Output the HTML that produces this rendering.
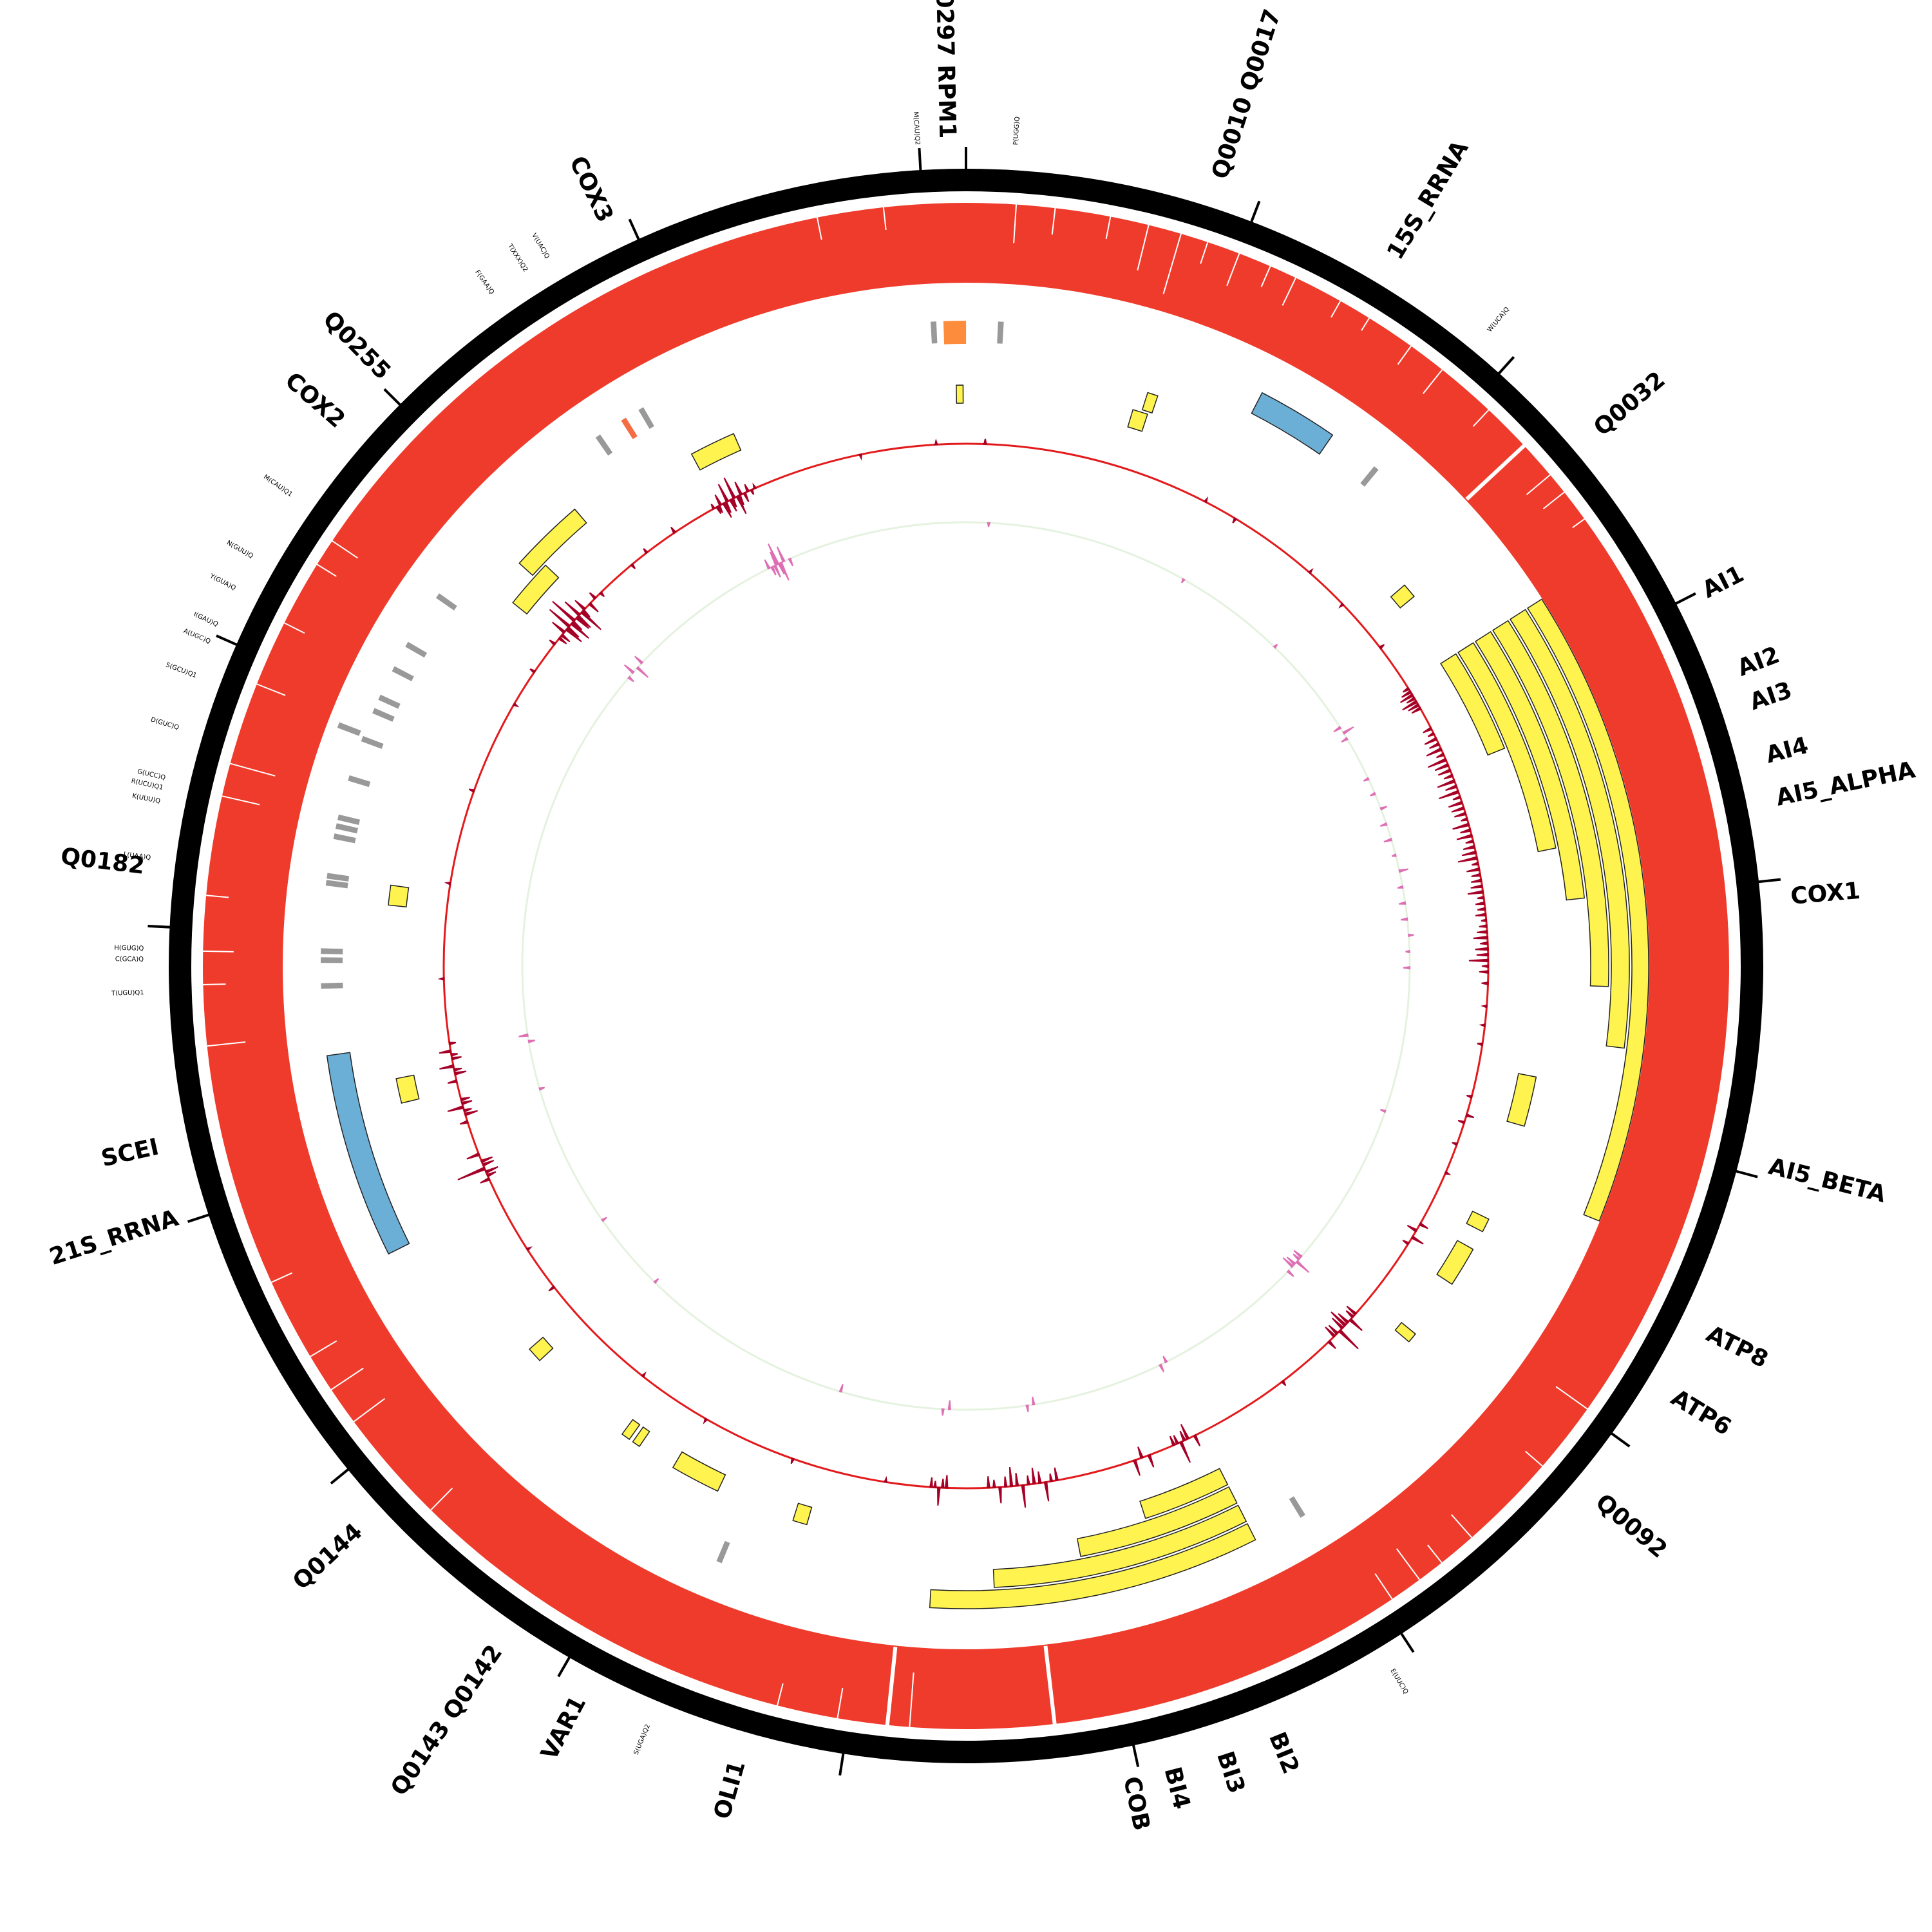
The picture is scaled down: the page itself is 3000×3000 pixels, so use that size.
<!DOCTYPE html>
<html><head><meta charset="utf-8"><style>
html,body{margin:0;padding:0;background:#fff}
svg{display:block}
text{font-family:"DejaVu Sans","Liberation Sans",sans-serif;fill:#000}
</style></head><body>
<svg id="chart" width="3000" height="3000" viewBox="0 0 3000 3000" xmlns="http://www.w3.org/2000/svg">
<rect width="3000" height="3000" fill="#fff"/>
<g id="ring-layer"></g><g id="feature-layer"></g><g id="track-layer"></g><g id="label-layer"></g>
</svg>
<script>
const GENOME_KB = 85.779;
const tickKb = [0,5,10,15,20,25,30,35,40,45,50,55,60,65,70,75,80,85];
// yellow genes: start, end, lane
const geneStart = [85.55,3.98,4.19,11.68,13.70,13.70,13.70,13.70,13.70,13.70,24.07,27.60,28.40,30.81,36.51,36.51,36.51,36.51,46.68,48.92,51.04,51.33,54.14,61.08,65.77,74.35,73.56,79.06];
const geneEnd   = [85.71,4.34,4.43,12.03,26.67,23.14,21.88,19.95,18.75,16.20,25.26,27.93,29.36,31.05,43.66,42.27,40.27,38.60,47.02,50.11,51.23,51.54,54.50,61.67,66.24,76.11,74.73,80.16];
const geneLane  = [6,6,5,6,1,2,3,4,5,6,6,6,6,6,3,4,5,6,6,6,6,6,6,6,6,5,6,6];
const rrnaStart = [6.51,58.02];
const rrnaEnd = [8.25,62.43];
const orfStart = [85.30];
const orfEnd = [85.78];
const trnaKb = [85.09,0.74,9.41,35.39,48.25,72.68,71.46,70.87,70.20,69.89,69.34,69.25,68.37,67.51,67.32,67.10,66.25,66.10,64.65,64.46,63.91,77.49,78.57,78.14];
const trnaLane = [0,0,0,0,0,0,0,0,0,0,1,0,0,0,0,0,0,0,0,0,0,0,0,0];
const trnaKind = ['g','g','g','g','g','g','g','g','g','g','g','g','g','g','g','g','g','g','g','g','g','g','g','o'];
// coverage gaps in red ring: position kb, depth fraction
const gapKb = [0.9,1.6,2.6,3.3,3.9,4.4,5.0,5.6,6.1,7.0,7.6,8.5,9.2,10.3,11.2,11.9,12.3,12.9,41.3,43.9,44.3,45.2,46.3,53.5,55.6,56.3,57.0,58.5,62.9,64.0,64.6,65.6,67.4,68.0,69.5,70.7,71.9,72.4,83.1,84.3,29.9,31.2,33.0,33.7,34.2,34.8];
const gapDepth = [0.5,0.35,0.3,0.6,0.8,0.3,0.45,0.3,0.4,0.25,0.2,0.3,0.4,0.3,1,0.4,0.35,0.2,1,0.7,1,0.4,0.3,0.4,0.5,0.5,0.4,0.3,0.5,0.3,0.4,0.3,0.5,0.6,0.4,0.3,0.3,0.4,0.3,0.3,0.5,0.3,0.4,0.3,0.5,0.4];
// red (outer) signal track
const redKb = [78.9,79.0,79.1,79.2,79.3,79.4,79.5,79.6,79.7,79.8,79.9,80.0,80.1,73.4,73.6,73.8,73.9,74.0,74.1,74.2,74.3,74.4,74.5,74.6,74.8,75.0,75.2,77.7,76.3,76.8,61.3,61.5,61.7,61.9,62.1,62.3,60.2,60.4,60.6,60.8,58.6,58.8,58.9,59.1,59.3,55.3,52.0,66.5,69.0,71.5,72.5,13.8,14.0,14.2,14.4,15.0,15.3,15.6,15.9,16.2,16.5,16.8,17.1,17.4,17.7,18.0,18.3,18.6,18.9,19.2,19.5,19.8,20.1,20.4,20.7,21.0,21.3,21.6,21.9,25.4,25.6,28.5,28.7,28.9,31.4,31.6,31.8,32.0,32.2,32.4,36.7,36.9,37.1,37.3,38.0,38.2,38.4,40.5,40.8,41.1,41.4,41.7,42.0,42.3,43.4,43.6,43.8,0.5,6.5,7.4,9.8,11.0,12.5,23.5,27.0,34.0,45.0,47.5,50.0,56.5,64.0,83.0,85.0,
 15.15,15.45,15.75,16.05,16.35,16.65,16.95,17.25,17.55,17.85,18.15,18.45,18.75,19.05,19.35,19.65,19.95,20.25,20.55,20.85,21.15,21.45,14.1,14.3,13.9,31.5,31.7,31.9,32.1,37.0,37.2,40.65,40.95,41.25,41.55,41.85,42.15,43.5,43.7,79.05,79.25,79.45,79.65,73.7,73.95,74.15,74.35,74.55,60.5,60.7,58.7,59.0,61.6,62.0,29.1,24.9,26.2,22.5,23.0];
const redVal = [8,-12,18,-25,30,-20,35,-30,22,-15,12,-8,6,10,-14,24,-30,40,-35,45,-25,30,-40,20,-18,12,-8,10,-8,8,14,-18,22,-15,18,-10,12,-20,25,-14,15,-20,45,-18,20,10,-6,6,8,-6,8,-10,-22,-25,-15,-14,-20,-25,-30,-20,-28,-32,-22,-18,-26,-24,-18,-30,-20,-16,-24,-14,-16,-12,-22,-20,-30,-14,-10,12,-10,14,-16,20,-18,25,-30,40,-20,15,18,-25,35,-15,20,-18,25,-20,30,-25,35,-30,25,-18,-20,28,-15,8,6,-8,6,-6,8,-8,6,8,-6,8,6,-6,6,-6,6,
 -10,-16,-12,-22,-14,-18,-12,-20,-10,-16,-12,-22,-10,-14,-18,-10,-12,-8,-16,-12,-18,-10,-14,-18,-16,-14,-20,-22,-18,-16,-14,-12,-18,-14,-20,-16,-12,-14,-10,-12,-18,-14,-16,-16,-22,-18,-26,-14,-12,-16,-14,-18,-12,-10,-10,-8,-8,-6,-6];
// pink (inner) signal track
const pinkKb = [79.5,79.7,79.8,79.9,80.0,80.2,74.0,74.2,74.4,74.6,62.0,62.2,13.7,13.9,14.1,15.5,16.5,17.5,18.5,19.5,20.5,21.5,31.2,31.4,31.6,31.8,36.5,36.7,40.8,41.0,43.4,43.6,46.8,53.5,56.0,60.5,0.7,7.0,10.5,26.0,79.6,79.75,79.85,31.3,31.5,16.0,17.0,18.0,19.0,20.0,21.0];
const pinkVal = [15,-20,35,-30,25,-12,-10,18,-22,15,-10,14,-12,18,-10,-8,10,-12,14,-10,8,-10,-15,25,-20,12,-10,12,-12,10,-14,10,-12,-8,-8,-8,-6,-6,6,-8,-14,22,-18,-12,-16,-8,-10,-6,-8,-10,-6];
// labels
const bigLabelText = ["Q0297 RPM1","Q0010 Q0017","15S_RRNA","Q0032","AI1","AI2","AI3","AI4","AI5_ALPHA","COX1","AI5_BETA","ATP8","ATP6","Q0092","BI2","BI3","BI4","COB","OLI1","VAR1","Q0143 Q0142","Q0144","21S_RRNA","SCEI","Q0182","COX2","Q0255","COX3"];
const bigLabelKb = [85.47,4.25,7.41,11.85,15.04,16.44,17.03,17.94,18.66,20.30,24.78,27.71,28.90,31.00,37.65,38.56,39.46,40.15,46.70,49.52,51.12,54.14,60.12,61.33,65.98,74.10,75.18,79.64];
const smallLabelText = ["M(CAU)Q2","P(UGG)Q","W(UCA)Q","E(UUC)Q","S(UGA)Q2","T(UGU)Q1","C(GCA)Q","H(GUG)Q","L(UAA)Q","K(UUU)Q","R(UCU)Q1","G(UCC)Q","D(GUC)Q","S(GCU)Q1","A(UGC)Q","I(GAU)Q","Y(GUA)Q","N(GUU)Q","M(CAU)Q1","F(GAA)Q","T(XXX)Q2","V(UAC)Q"];
const smallLabelKb = [84.97,0.83,9.41,35.46,48.30,63.89,64.44,64.62,66.13,67.08,67.31,67.48,68.34,69.25,69.86,70.17,70.84,71.44,72.65,77.40,78.07,78.49];

const CX=1500, CY=1500, NS="http://www.w3.org/2000/svg";
const laneR = {1:[1034,1060],2:[1002,1030],3:[970,998],4:[938,966],5:[906,934],6:[874,902]};
const trnaR = [[968,1002],[1008,1044]];
function ang(kb){return kb/GENOME_KB*360;}
function pt(kb,r){const a=ang(kb)*Math.PI/180;return [CX+r*Math.sin(a),CY-r*Math.cos(a)];}
function sector(k1,k2,r1,r2){
  let a1=ang(k1),a2=ang(k2); if(a2<a1)a2+=360;
  const large=(a2-a1)>180?1:0;
  const p1=pt(k1,r2),p2=pt(k2,r2),p3=pt(k2,r1),p4=pt(k1,r1);
  return `M${p1[0]},${p1[1]}A${r2},${r2} 0 ${large} 1 ${p2[0]},${p2[1]}L${p3[0]},${p3[1]}A${r1},${r1} 0 ${large} 0 ${p4[0]},${p4[1]}Z`;
}
function mk(tag,attrs,parent){const e=document.createElementNS(NS,tag);for(const k in attrs)e.setAttribute(k,attrs[k]);parent.appendChild(e);return e;}
const ringL=document.getElementById('ring-layer'),featL=document.getElementById('feature-layer'),trkL=document.getElementById('track-layer'),labL=document.getElementById('label-layer');

let e=mk('circle',{cx:CX,cy:CY,r:1220.5,fill:'none',stroke:'#000','stroke-width':35},ringL);


e=mk('circle',{cx:CX,cy:CY,r:1123,fill:'none',stroke:'#ef3b2c','stroke-width':124},ringL);


gapKb.forEach((k,i)=>{
  const w=(gapDepth[i]>=1)?6:2;
  const p1=pt(k,1187),p2=pt(k,1187-124*gapDepth[i]);
  const g=mk('line',{x1:p1[0],y1:p1[1],x2:p2[0],y2:p2[1],stroke:'#fff','stroke-width':w},ringL);
  
  
});
tickKb.forEach(k=>{
  const p1=pt(k,1236),p2=pt(k,1272);
  const t=mk('line',{x1:p1[0],y1:p1[1],x2:p2[0],y2:p2[1],stroke:'#000','stroke-width':4},ringL);
  
  
});
geneStart.forEach((s,i)=>{
  const r=laneR[geneLane[i]];
  const p=mk('path',{d:sector(s,geneEnd[i],r[0],r[1]),fill:'#fff44f',stroke:'#222','stroke-width':1.5},featL);
  
  
});
rrnaStart.forEach((s,i)=>{
  const p=mk('path',{d:sector(s,rrnaEnd[i],966,1002),fill:'#6baed6',stroke:'#222','stroke-width':1.5},featL);
  
  
});
orfStart.forEach((s,i)=>{
  const p=mk('path',{d:sector(s,orfEnd[i],966,1002),fill:'#fd8d3c'},featL);
  
  
});
trnaKb.forEach((k,i)=>{
  const r=trnaR[trnaLane[i]];
  const p=mk('path',{d:sector(k-0.06,k+0.06,r[0],r[1]),fill:trnaKind[i]==='o'?'#f46d43':'#999'},featL);
  
  
});
function track(base,kbs,vals,baseColor,spikeColor,name){
  const c=mk('circle',{cx:CX,cy:CY,r:base,fill:'none',stroke:baseColor,'stroke-width':3},trkL);
  
  
  kbs.forEach((k,i)=>{
    const v=vals[i];
    const a=pt(k-0.03,base),b=pt(k,base+v),d=pt(k+0.03,base);
    const s=mk('path',{d:`M${a[0]},${a[1]}L${b[0]},${b[1]}L${d[0]},${d[1]}Z`,fill:spikeColor,stroke:spikeColor,'stroke-width':2},trkL);
    
    
  });
}
track(811,redKb,redVal,'#e31a1c','#a50026','outer-signal');
track(689,pinkKb,pinkVal,'#e5f2df','#de6fb4','inner-signal');
function label(txt,kb,r,size,weight,name){
  const a=ang(kb), p=pt(kb,r);
  const right=a>0&&a<180;
  const rot=right?a-90:a+90;
  const t=mk('text',{x:p[0],y:p[1],'font-size':size,'font-weight':weight,'text-anchor':right?'start':'end','dominant-baseline':'central',transform:`rotate(${rot} ${p[0]} ${p[1]})`},labL);
  t.textContent=txt;
  
  
}
bigLabelText.forEach((t,i)=>label(t,bigLabelKb[i],1285,36,'bold','gene-label'));
smallLabelText.forEach((t,i)=>label(t,smallLabelKb[i],1277,10,'normal','trna-label'));
</script>
</body></html>
